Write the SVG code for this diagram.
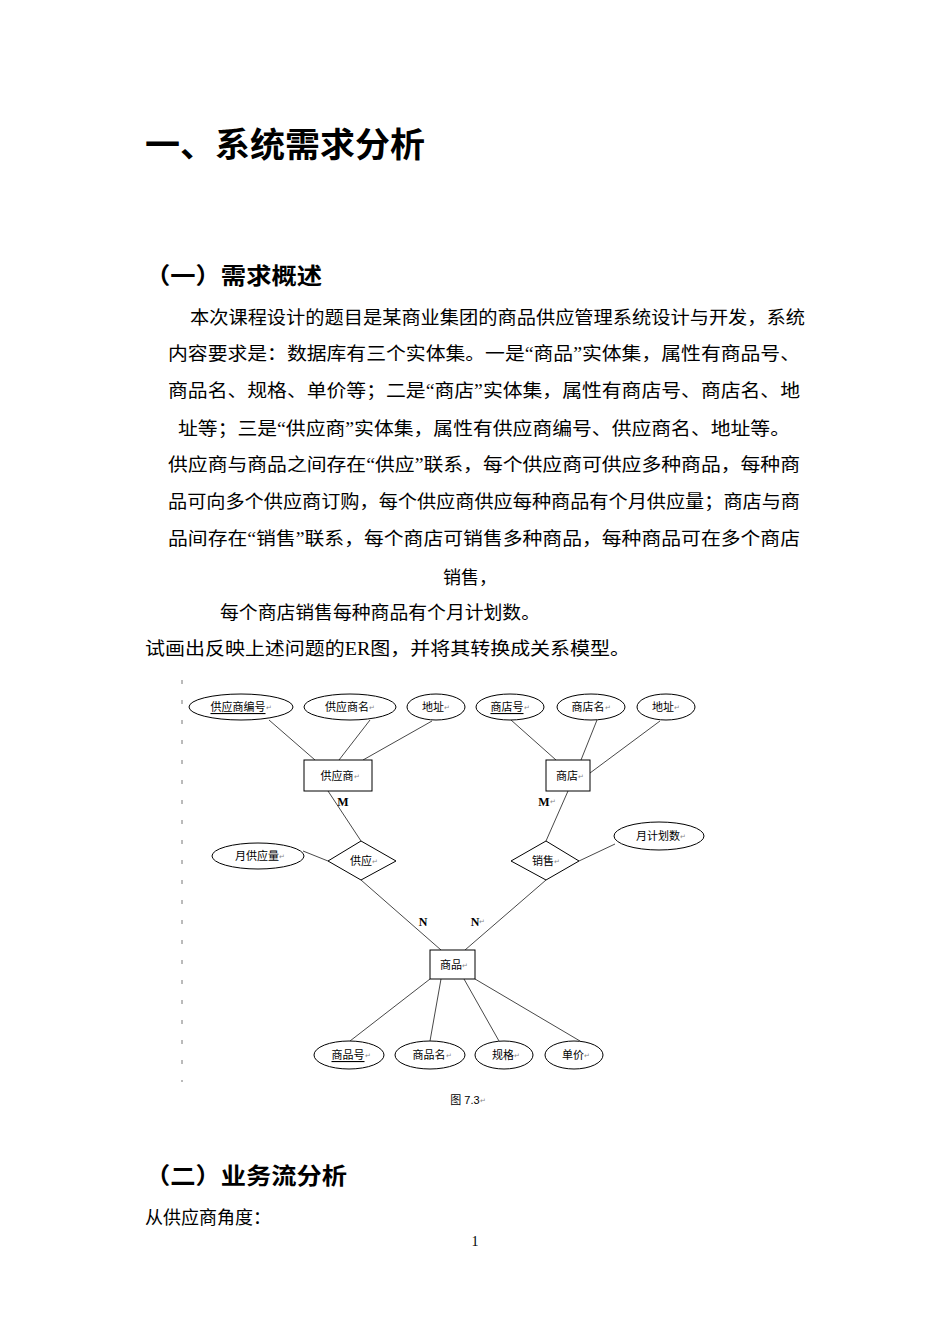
<svg xmlns="http://www.w3.org/2000/svg" width="950" height="1344" viewBox="0 0 950 1344">
<style>
.doc{font-family:"Liberation Serif","Noto Sans CJK SC",serif;fill:#000}
.h1{font-size:34px;font-weight:bold}
.h2{font-size:23px;font-weight:bold}
.p{font-size:18px}
.lbl{font-family:"Liberation Sans","Noto Sans CJK SC",sans-serif;font-size:11px;fill:#000;text-anchor:middle;dominant-baseline:central}
.r{fill:#888;font-size:7px}
.u{text-decoration:underline}
.sh{fill:#fff;stroke:#000;stroke-width:1}
.ln{stroke:#333;stroke-width:0.9;fill:none}
.card{font-family:"Liberation Serif",serif;font-size:12px;font-weight:bold;text-anchor:middle;dominant-baseline:central}
</style>
<rect width="950" height="1344" fill="#fff"/>
<g class="doc">
<text class="h1" x="145" y="157" textLength="280" lengthAdjust="spacingAndGlyphs">一、系统需求分析</text>
<text class="h2" x="145" y="284" textLength="177" lengthAdjust="spacingAndGlyphs">（一）需求概述</text>
<text class="p" x="190" y="324" textLength="615" lengthAdjust="spacingAndGlyphs">本次课程设计的题目是某商业集团的商品供应管理系统设计与开发，系统</text>
<text class="p" x="168" y="360" textLength="632" lengthAdjust="spacingAndGlyphs">内容要求是：数据库有三个实体集。一是“商品”实体集，属性有商品号、</text>
<text class="p" x="168" y="397" textLength="632" lengthAdjust="spacingAndGlyphs">商品名、规格、单价等；二是“商店”实体集，属性有商店号、商店名、地</text>
<text class="p" x="178" y="435" textLength="612" lengthAdjust="spacingAndGlyphs">址等；三是“供应商”实体集，属性有供应商编号、供应商名、地址等。</text>
<text class="p" x="168" y="471" textLength="632" lengthAdjust="spacingAndGlyphs">供应商与商品之间存在“供应”联系，每个供应商可供应多种商品，每种商</text>
<text class="p" x="168" y="508" textLength="632" lengthAdjust="spacingAndGlyphs">品可向多个供应商订购，每个供应商供应每种商品有个月供应量；商店与商</text>
<text class="p" x="168" y="545" textLength="632" lengthAdjust="spacingAndGlyphs">品间存在“销售”联系，每个商店可销售多种商品，每种商品可在多个商店</text>
<text class="p" x="443" y="584">销售，</text>
<text class="p" x="220" y="619" textLength="320" lengthAdjust="spacingAndGlyphs">每个商店销售每种商品有个月计划数。</text>
<text class="p" x="145" y="655" textLength="485" lengthAdjust="spacingAndGlyphs">试画出反映上述问题的ER图，并将其转换成关系模型。</text>
<text class="h2" x="145" y="1184" textLength="202" lengthAdjust="spacingAndGlyphs">（二）业务流分析</text>
<text class="p" x="145" y="1224">从供应商角度：</text>
<text x="475" y="1246" font-size="14" text-anchor="middle">1</text>
</g>
<line x1="182" y1="680" x2="182" y2="1082" stroke="#777" stroke-width="1" stroke-dasharray="4 16"/>
<g id="connectors">
<line class="ln" x1="269" y1="720" x2="315" y2="760"/>
<line class="ln" x1="370" y1="720" x2="339" y2="760"/>
<line class="ln" x1="432" y1="721" x2="363" y2="760"/>
<line class="ln" x1="511" y1="720" x2="556" y2="760"/>
<line class="ln" x1="597" y1="720" x2="581" y2="760"/>
<line class="ln" x1="660" y1="721" x2="590" y2="773"/>
<line class="ln" x1="328" y1="791" x2="361" y2="841"/>
<line class="ln" x1="568" y1="791" x2="546" y2="841"/>
<line class="ln" x1="303" y1="851" x2="328" y2="861"/>
<line class="ln" x1="615" y1="844" x2="579" y2="861"/>
<line class="ln" x1="361" y1="880" x2="441" y2="950"/>
<line class="ln" x1="546" y1="880" x2="465" y2="950"/>
<line class="ln" x1="430" y1="979" x2="350" y2="1041"/>
<line class="ln" x1="441" y1="979" x2="430" y2="1041"/>
<line class="ln" x1="464" y1="979" x2="499" y2="1041"/>
<line class="ln" x1="475" y1="979" x2="580" y2="1041"/>
<text class="card" x="343" y="802">M</text>
<text class="card" x="547" y="802">M<tspan class="r" font-weight="normal">↵</tspan></text>
<text class="card" x="423" y="922">N</text>
<text class="card" x="478" y="922">N<tspan class="r" font-weight="normal">↵</tspan></text>
</g>
<g id="attr-supno"><ellipse class="sh" cx="241" cy="707" rx="52" ry="13"/><text class="lbl" x="241" y="707"><tspan class="u">供应商编号</tspan><tspan class="r">↵</tspan></text></g>
<g id="attr-supname"><ellipse class="sh" cx="350" cy="707" rx="46" ry="13"/><text class="lbl" x="350" y="707">供应商名<tspan class="r">↵</tspan></text></g>
<g id="attr-supaddr"><ellipse class="sh" cx="436" cy="707" rx="29" ry="13"/><text class="lbl" x="436" y="707">地址<tspan class="r">↵</tspan></text></g>
<g id="attr-shopno"><ellipse class="sh" cx="510" cy="707" rx="34" ry="13"/><text class="lbl" x="510" y="707"><tspan class="u">商店号</tspan><tspan class="r">↵</tspan></text></g>
<g id="attr-shopname"><ellipse class="sh" cx="591" cy="707" rx="34" ry="13"/><text class="lbl" x="591" y="707">商店名<tspan class="r">↵</tspan></text></g>
<g id="attr-shopaddr"><ellipse class="sh" cx="666" cy="707" rx="29" ry="13"/><text class="lbl" x="666" y="707">地址<tspan class="r">↵</tspan></text></g>
<g id="supplier"><rect class="sh" x="304" y="760" width="68" height="31"/><text class="lbl" x="340" y="776">供应商<tspan class="r">↵</tspan></text></g>
<g id="shop"><rect class="sh" x="546" y="760" width="44" height="31"/><text class="lbl" x="570" y="776">商店<tspan class="r">↵</tspan></text></g>
<g id="supply"><polygon class="sh" points="361,841 396,861 361,880 328,861"/><text class="lbl" x="364" y="861">供应<tspan class="r">↵</tspan></text></g>
<g id="sale"><polygon class="sh" points="546,841 579,861 546,880 511,861"/><text class="lbl" x="546" y="861">销售<tspan class="r">↵</tspan></text></g>
<g id="attr-monthsupply"><ellipse class="sh" cx="258" cy="856" rx="46" ry="13"/><text class="lbl" x="260" y="856">月供应量<tspan class="r">↵</tspan></text></g>
<g id="attr-monthplan"><ellipse class="sh" cx="659" cy="836" rx="45" ry="14"/><text class="lbl" x="661" y="836">月计划数<tspan class="r">↵</tspan></text></g>
<g id="product"><rect class="sh" x="430" y="950" width="45" height="29"/><text class="lbl" x="454" y="965">商品<tspan class="r">↵</tspan></text></g>
<g id="attr-pno"><ellipse class="sh" cx="349" cy="1055" rx="35" ry="14"/><text class="lbl" x="351" y="1055"><tspan class="u">商品号</tspan><tspan class="r">↵</tspan></text></g>
<g id="attr-pname"><ellipse class="sh" cx="430" cy="1055" rx="35" ry="14"/><text class="lbl" x="432" y="1055">商品名<tspan class="r">↵</tspan></text></g>
<g id="attr-spec"><ellipse class="sh" cx="504" cy="1055" rx="29" ry="14"/><text class="lbl" x="506" y="1055">规格<tspan class="r">↵</tspan></text></g>
<g id="attr-price"><ellipse class="sh" cx="574" cy="1055" rx="29" ry="14"/><text class="lbl" x="576" y="1055">单价<tspan class="r">↵</tspan></text></g>
<text class="lbl" x="468" y="1100" font-size="10" fill="#444">图 7.3<tspan class="r">↵</tspan></text>
</svg>
